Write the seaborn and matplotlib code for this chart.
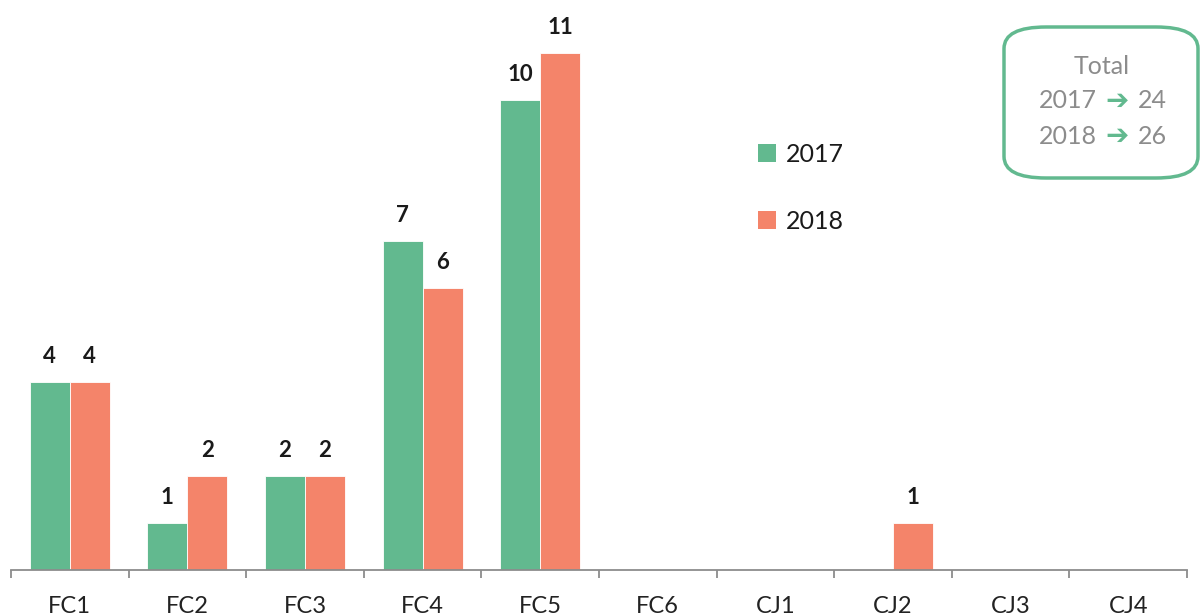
import matplotlib
matplotlib.use("Agg")
import matplotlib.pyplot as plt
import seaborn as sns
import pandas as pd
import numpy as np
from matplotlib.patches import FancyBboxPatch, Patch

categories = ["FC1", "FC2", "FC3", "FC4", "FC5", "FC6", "CJ1", "CJ2", "CJ3", "CJ4"]
values_2017 = [4, 1, 2, 7, 10, 0, 0, 0, 0, 0]
values_2018 = [4, 2, 2, 6, 11, 0, 0, 1, 0, 0]
series = ["2017", "2018"]
totals = [24, 26]
colors = ["#62B98F", "#F4846A"]

sns.set_theme(style="white")
plt.rcParams['font.family'] = ['Lato', 'DejaVu Sans']

df = pd.DataFrame({
    "cat": categories * 2,
    "value": values_2017 + values_2018,
    "year": [series[0]] * len(categories) + [series[1]] * len(categories),
})

fig = plt.figure(figsize=(12.01, 6.15), dpi=100)
ax = fig.add_axes([11 / 1201, 45 / 615, 1176 / 1201, 564 / 615])

sns.barplot(data=df, x="cat", y="value", hue="year", palette=colors, saturation=1,
            width=0.68, ax=ax, edgecolor="white", linewidth=0.6, legend=False)

ax.set_xlim(-0.5, len(categories) - 0.5)
ax.set_ylim(0, 12)
ax.set_xlabel("")
ax.set_ylabel("")
ax.set_yticks([])
for s in ["top", "right", "left"]:
    ax.spines[s].set_visible(False)
ax.spines["bottom"].set_color("#8c8c8c")
ax.spines["bottom"].set_linewidth(1.3)

ax.set_xticks(range(len(categories)))
ax.set_xticklabels(categories, fontsize=17, color="#222222")
ax.tick_params(axis="x", which="major", length=0, pad=19)
ax.set_xticks(np.arange(-0.5, len(categories), 1.0), minor=True)
ax.tick_params(axis="x", which="minor", length=6, width=1.3, color="#8c8c8c", bottom=True)

for cont, vals in zip(ax.containers, [values_2017, values_2018]):
    labels = [str(v) if v else "" for v in vals]
    ax.bar_label(cont, labels=labels, padding=11, fontsize=16, fontweight="bold", color="#1a1a1a")

handles = [Patch(facecolor=c, edgecolor="none") for c in colors]
leg = fig.legend(handles, series, loc="upper left", bbox_to_anchor=(758 / 1201, 1 - 143 / 615),
                 frameon=False, fontsize=18, handlelength=0.72, handleheight=0.72,
                 handletextpad=0.4, labelspacing=1.75, labelcolor="#1a1a1a",
                 borderpad=0, borderaxespad=0)

box = FancyBboxPatch((1004 / 1201, 1 - 178 / 615), 194 / 1201, 151 / 615,
                     boxstyle="round,pad=0,rounding_size=0.035", transform=fig.transFigure,
                     facecolor="white", edgecolor="#62B98F", linewidth=2.5)
fig.patches.append(box)
gray = "#8c8c8c"
fig.text(1102 / 1201, 1 - 66 / 615, "Total", ha="center", va="center", fontsize=18, color=gray)
for i, (yr, tot) in enumerate(zip(series, totals)):
    yy = 1 - (101 + 35 * i) / 615
    fig.text(1068 / 1201, yy, yr, ha="center", va="center", fontsize=18, color=gray)
    fig.text(1117 / 1201, yy, "➔", ha="center", va="center", fontsize=20, color="#62B98F",
             family=["DejaVu Sans"])
    fig.text(1152 / 1201, yy, str(tot), ha="center", va="center", fontsize=18, color=gray)

fig.savefig("out.png", dpi=100)
